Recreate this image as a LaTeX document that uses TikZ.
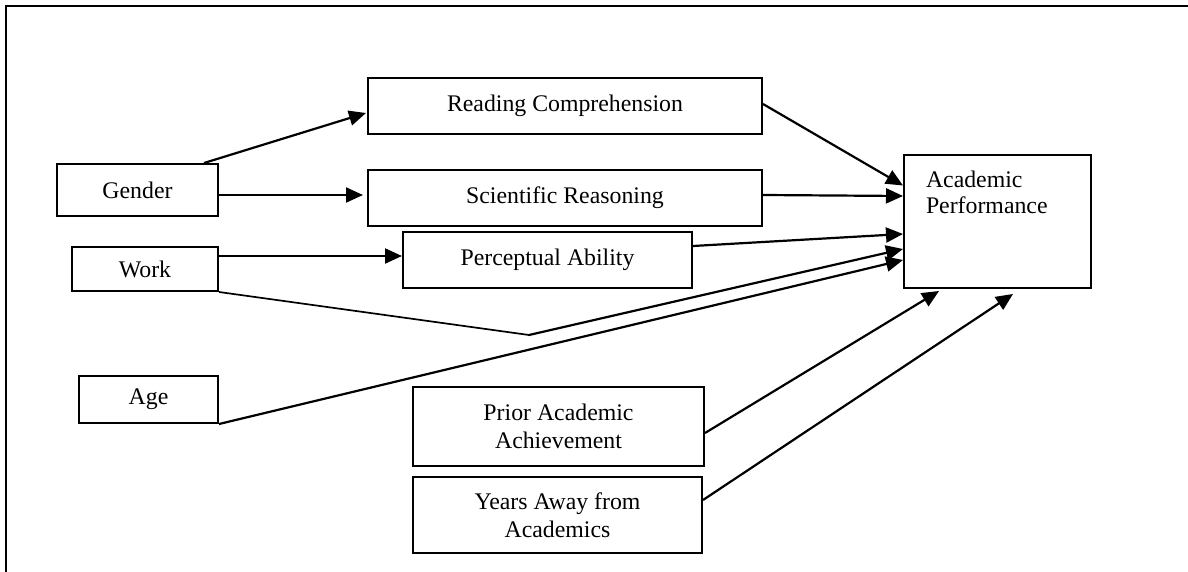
\documentclass[tikz,border=0pt]{standalone}
\usepackage{fontspec}
\setmainfont{Liberation Serif}
\usetikzlibrary{arrows.meta,calc}
\begin{document}
\begin{tikzpicture}[x=1pt,y=-1pt,
  box/.style={draw,line width=2pt,inner sep=0pt,font=\fontsize{23.8}{27.5}\selectfont},
  conn/.style={line width=2.2pt,-{Triangle[length=17pt,width=15pt]}},
  plain/.style={line width=1.7pt}]
\useasboundingbox (0,0) rectangle (1188,572);
\draw[line width=2.8pt] (6,572) -- (6,6) -- (1188,6);

\node[box,minimum width=161pt,minimum height=52pt] (gender) at (137.5,190) {Gender};
\node[box,minimum width=146pt,minimum height=44pt] (work) at (145,269) {Work};
\node[box,minimum width=139pt,minimum height=47pt] (age) at (148.5,399.5) {Age};
\node[box,minimum width=394pt,minimum height=56pt] (rc) at (565,106) {Reading Comprehension};
\node[box,minimum width=394pt,minimum height=56pt] (sr) at (565,198) {Scientific Reasoning};
\node[box,minimum width=289pt,minimum height=56pt] (pa) at (547.5,260) {Perceptual Ability};
\node[box,minimum width=291pt,minimum height=79pt,align=center] (paa) at (558.5,426.5) {Prior Academic\\Achievement};
\node[box,minimum width=289pt,minimum height=76pt,align=center] (ya) at (557.5,515) {Years Away from\\Academics};
\node[box,anchor=north west,align=left,text width=143pt,inner xsep=22pt,inner ysep=0pt,
  font=\fontsize{23.8}{26}\selectfont] (ap) at (903,154)
  {\rule{0pt}{33pt}Academic\\Performance\rule[-74pt]{0pt}{0pt}};

\coordinate (bend) at (529,335);

\draw[conn] ($(gender.north east)+(-15,0)$) -- ($(rc.west)+(-1,7)$);
\draw[conn] ($(gender.east)+(0,5)$) -- ($(sr.west)+(-4,-3)$);
\draw[conn] ($(work.east)+(0,-13)$) -- ($(pa.west)+(0,-4)$);
\draw[conn] ($(rc.east)+(0,-2)$) -- ($(ap.west)+(0,-36)$);
\draw[conn] ($(sr.east)+(0,-3)$) -- ($(ap.west)+(0,-25.5)$);
\draw[conn] ($(pa.east)+(0,-14)$) -- ($(ap.west)+(0,12.5)$);
\draw[plain] (work.south east) -- (bend);
\draw[conn] (bend) -- ($(ap.west)+(0,27.5)$);
\draw[conn] (age.south east) -- ($(ap.west)+(0,38.5)$);
\draw[conn] ($(paa.east)+(0,6.5)$) -- ($(ap.south west)+(36,2)$);
\draw[conn] ($(ya.east)+(0,-15)$) -- ($(ap.south west)+(110,5)$);
\end{tikzpicture}
\end{document}
